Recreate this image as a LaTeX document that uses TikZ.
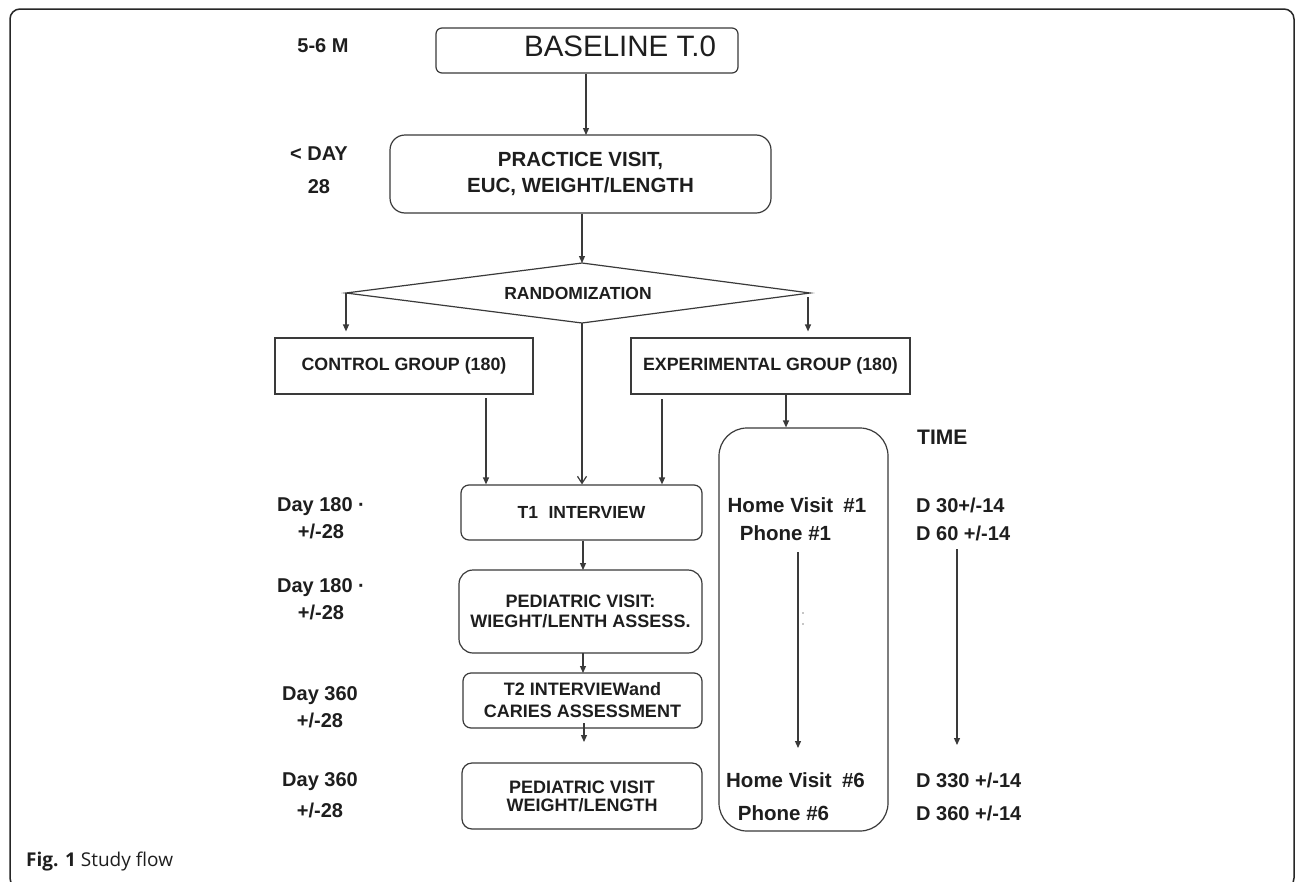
\documentclass[tikz,border=0pt]{standalone}
\usepackage{fontspec}
\setmainfont{Liberation Sans}
\newfontfamily\capfont{Open Sans}
\usetikzlibrary{arrows.meta,calc}
\definecolor{ink}{HTML}{1E1E1E}
\definecolor{edge}{HTML}{3A3A3A}
\tikzset{
  lbl/.style={font=\bfseries\fontsize{20}{27}\selectfont, text=ink, inner sep=0pt, align=center},
  rlbl/.style={font=\bfseries\fontsize{20}{24}\selectfont, text=ink, inner sep=0pt, anchor=west},
  itxt/.style={font=\bfseries\fontsize{20.5}{24}\selectfont, text=ink, inner sep=0pt},
  boxtxt/.style={font=\bfseries\fontsize{17.5}{20}\selectfont, text=ink, inner sep=0pt, align=center},
  rbox/.style={draw=edge, line width=1.2pt, rounded corners=#1, inner sep=0pt, align=center,
               font=\bfseries\fontsize{18}{21}\selectfont, text=ink},
  rbox/.default=8pt,
  sbox/.style={draw=edge, line width=1.2pt, inner sep=0pt, align=center,
               font=\bfseries\fontsize{17.8}{21}\selectfont, text=ink},
  ln/.style={draw=edge, line width=1.2pt},
  arr/.style={draw=edge, line width=1.2pt, -{Triangle[length=7pt,width=6pt]}},
  oarr/.style={draw=edge, line width=1.2pt, -{Straight Barb[length=7pt,width=9pt]}},
}
\begin{document}
\begin{tikzpicture}[x=1pt,y=-1pt]
\useasboundingbox (0,0) rectangle (1296,881);
\fill[white] (0,0) rectangle (1296,881);
% outer frame
\draw[line width=1.5pt, black!85, rounded corners=10pt] (10,9) rectangle (1294,888);

% left time labels
\node[lbl] (l0) at (323,46) {5-6 M};
\node[lbl, font=\bfseries\fontsize{20}{33}\selectfont] (l1) at (319,170) {< DAY\\28};
\node[lbl] (l2) at (321,518) {Day 180 ·\\+/-28};
\node[lbl] (l3) at (321,599) {Day 180 ·\\+/-28};
\node[lbl] (l4) at (320,707) {Day 360\\+/-28};
\node[lbl, font=\bfseries\fontsize{20}{31}\selectfont] (l5) at (320,795) {Day 360\\+/-28};

% baseline
\node[rbox=6pt, minimum width=302pt, minimum height=45pt] (base) at (587,50.5) {};
\node[font=\fontsize{29.5}{32}\selectfont, text=ink, inner sep=0pt] (baset) at (620,46) {BASELINE T.0};

% practice visit
\node[rbox=15pt, minimum width=381pt, minimum height=78pt, font=\bfseries\fontsize{20.5}{26}\selectfont] (prac) at (580.5,174) {PRACTICE VISIT,\\EUC, WEIGHT/LENGTH};
\draw[arr] (base.south -| 586,0) -- (586,135);

% randomization diamond
\coordinate (dtop) at (582,263);
\coordinate (dleft) at (346,293);
\coordinate (dright) at (810,293);
\coordinate (dbot) at (582,323);
\draw[ln, line join=miter] (dtop) -- (dright) -- (dbot) -- (dleft) -- cycle;
\node[boxtxt] (rand) at (578,293) {RANDOMIZATION};
\draw[arr] (prac.south -| dtop) -- (dtop);

% groups
\node[sbox, minimum width=258pt, minimum height=56pt] (ctrl) at (404,366) {CONTROL GROUP (180)};
\node[sbox, minimum width=279pt, minimum height=56pt] (exp) at (770.5,366) {EXPERIMENTAL GROUP (180)};
\draw[arr, shorten >=6pt] (dleft) -- (dleft |- ctrl.north);
\coordinate (rtop) at (808,297);
\draw[arr, shorten >=6pt] (rtop) -- (rtop |- exp.north);

% T1 interview
\node[rbox=8pt, minimum width=241pt, minimum height=55pt, font=\bfseries\fontsize{17.5}{20}\selectfont] (t1) at (581.5,512.5) {T1\hspace{0.6em}INTERVIEW};
\coordinate (c1) at (486,398);
\coordinate (c2) at (662,399);
\draw[arr] (c1) -- (c1 |- t1.north);
\draw[oarr] (dbot) -- (dbot |- t1.north);
\draw[arr] (c2) -- (c2 |- t1.north);

% pediatric visit 1
\node[rbox=14pt, minimum width=243pt, minimum height=83pt, font=\bfseries\fontsize{18}{20}\selectfont] (ped1) at (580.5,611.5) {PEDIATRIC VISIT:\\WIEGHT/LENTH ASSESS.};
\draw[arr] (t1.south -| 583,0) -- (583,570);

% T2 interview
\node[rbox=8pt, minimum width=239pt, minimum height=55pt, font=\bfseries\fontsize{18}{22}\selectfont] (t2) at (582.5,700.5) {T2 INTERVIEWand\\CARIES ASSESSMENT};
\draw[arr] (583,653) -- (583,673);
\coordinate (c4) at (584,742);
\draw[arr] (584,723) -- (c4);

% pediatric visit 2
\node[rbox=10pt, minimum width=240pt, minimum height=66pt, font=\bfseries\fontsize{18}{18}\selectfont] (ped2) at (582,796) {PEDIATRIC VISIT\\WEIGHT/LENGTH};

% experimental tall box
\node[draw=edge, line width=1.2pt, rounded corners=28pt, minimum width=169pt, minimum height=403pt, inner sep=0pt] (tall) at (803.5,629.5) {};
\coordinate (c3) at (786,394);
\draw[arr] (c3) -- (c3 |- tall.north);

\node[itxt] (hv1) at (797,505) {Home Visit\hspace{0.5em}\#1};
\node[itxt] (ph1) at (785.5,533) {Phone \#1};
\node[itxt] (hv6) at (795.5,780) {Home Visit\hspace{0.5em}\#6};
\node[itxt] (ph6) at (783.5,813) {Phone \#6};
\coordinate (a1) at (798,552);
\coordinate (a2) at (798,748);
\draw[arr] (a1) -- (a2);
\fill[black!45] (803,613) circle (0.8pt) (803,624) circle (0.8pt);

% time column
\node[rlbl, font=\bfseries\fontsize{21}{24}\selectfont] (time) at (917,437) {TIME};
\node[rlbl] (d30) at (916,505) {D 30+/-14};
\node[rlbl] (d60) at (916,533) {D 60 +/-14};
\node[rlbl] (d330) at (916,780) {D 330 +/-14};
\node[rlbl] (d360) at (916,813) {D 360 +/-14};
\coordinate (b1) at (957,549);
\coordinate (b2) at (957,745);
\draw[arr] (b1) -- (b2);

% caption
\node[anchor=west, inner sep=0pt, font=\capfont\fontsize{19}{21}\selectfont, text=ink] (cap) at (26,862) {\textbf{Fig. 1} Study flow};
\end{tikzpicture}
\end{document}
